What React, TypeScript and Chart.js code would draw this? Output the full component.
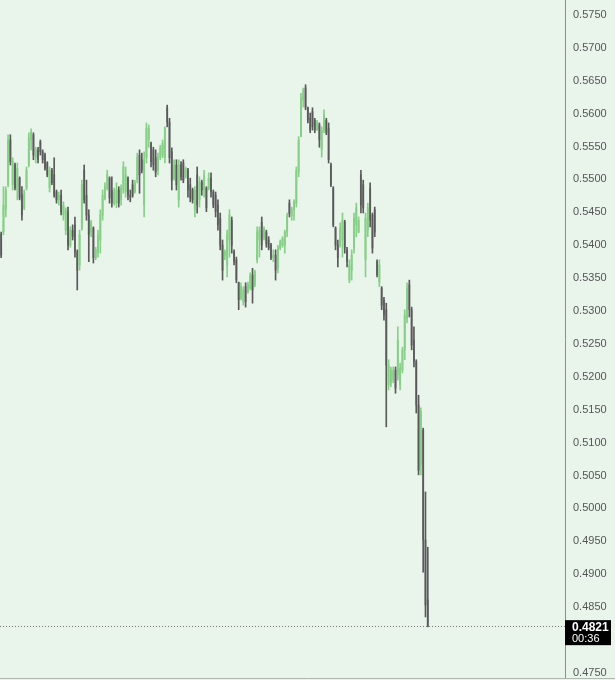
import { useEffect, useRef } from "react";
import { Chart, registerables } from "chart.js";

Chart.register(...registerables);

// OHLC candles, oldest first
const opens = [
  0.5417, 0.5420, 0.5454, 0.5492, 0.5560, 0.5492, 0.5522, 0.5484, 0.5502, 0.5476,
  0.5457, 0.5487, 0.5522, 0.5560, 0.5568, 0.5533, 0.5545, 0.5557, 0.5542, 0.5537,
  0.5525, 0.5487, 0.5514, 0.5507, 0.5481, 0.5469, 0.5476, 0.5446, 0.5423, 0.5451,
  0.5400, 0.5423, 0.5431, 0.5390, 0.5370, 0.5426, 0.5514, 0.5476, 0.5446, 0.5420,
  0.5426, 0.5381, 0.5390, 0.5408, 0.5446, 0.5472, 0.5487, 0.5502, 0.5484, 0.5464,
  0.5464, 0.5484, 0.5469, 0.5484, 0.5481, 0.5502, 0.5476, 0.5492, 0.5481, 0.5499,
  0.5537, 0.5530, 0.5461, 0.5533, 0.5560, 0.5555, 0.5545, 0.5533, 0.5514, 0.5534,
  0.5537, 0.5533, 0.5609, 0.5587, 0.5542, 0.5502, 0.5522, 0.5469, 0.5522, 0.5525,
  0.5504, 0.5514, 0.5492, 0.5484, 0.5454, 0.5507, 0.5469, 0.5496, 0.5484, 0.5487,
  0.5487, 0.5502, 0.5481, 0.5476, 0.5461, 0.5441, 0.5400, 0.5385, 0.5370, 0.5408,
  0.5438, 0.5390, 0.5378, 0.5343, 0.5320, 0.5314, 0.5337, 0.5329, 0.5335, 0.5355,
  0.5340, 0.5378, 0.5408, 0.5435, 0.5411, 0.5420, 0.5408, 0.5400, 0.5381, 0.5385,
  0.5365, 0.5396, 0.5400, 0.5400, 0.5420, 0.5464, 0.5445, 0.5454, 0.5464, 0.5511,
  0.5565, 0.5621, 0.5639, 0.5609, 0.5593, 0.5603, 0.5590, 0.5575, 0.5583, 0.5545,
  0.5575, 0.5590, 0.5578, 0.5522, 0.5487, 0.5426, 0.5400, 0.5400, 0.5408, 0.5435,
  0.5393, 0.5347, 0.5362, 0.5396, 0.5431, 0.5420, 0.5507, 0.5492, 0.5378, 0.5423,
  0.5487, 0.5446, 0.5454, 0.5375, 0.5344, 0.5335, 0.5317, 0.5302, 0.5188, 0.5191,
  0.5195, 0.5210, 0.5203, 0.5188, 0.5210, 0.5241, 0.5289, 0.5340, 0.5302, 0.5256,
  0.5223, 0.5157, 0.5066, 0.5119, 0.4952, 0.4861,
];
const highs = [
  0.5420, 0.5489, 0.5489, 0.5568, 0.5568, 0.5533, 0.5525, 0.5525, 0.5504, 0.5489,
  0.5484, 0.5519, 0.5571, 0.5577, 0.5571, 0.5549, 0.5549, 0.5560, 0.5545, 0.5540,
  0.5527, 0.5519, 0.5517, 0.5533, 0.5484, 0.5481, 0.5484, 0.5466, 0.5457, 0.5458,
  0.5428, 0.5431, 0.5443, 0.5393, 0.5423, 0.5499, 0.5522, 0.5499, 0.5454, 0.5438,
  0.5428, 0.5397, 0.5423, 0.5454, 0.5484, 0.5495, 0.5514, 0.5504, 0.5504, 0.5487,
  0.5495, 0.5489, 0.5492, 0.5527, 0.5519, 0.5504, 0.5484, 0.5499, 0.5499, 0.5540,
  0.5545, 0.5540, 0.5542, 0.5586, 0.5583, 0.5557, 0.5549, 0.5545, 0.5540, 0.5552,
  0.5560, 0.5580, 0.5613, 0.5593, 0.5548, 0.5530, 0.5530, 0.5530, 0.5527, 0.5530,
  0.5519, 0.5517, 0.5502, 0.5487, 0.5489, 0.5519, 0.5504, 0.5499, 0.5514, 0.5489,
  0.5510, 0.5510, 0.5484, 0.5481, 0.5469, 0.5449, 0.5408, 0.5393, 0.5423, 0.5454,
  0.5443, 0.5393, 0.5382, 0.5344, 0.5343, 0.5337, 0.5343, 0.5344, 0.5358, 0.5365,
  0.5362, 0.5428, 0.5428, 0.5443, 0.5428, 0.5423, 0.5413, 0.5403, 0.5393, 0.5393,
  0.5400, 0.5408, 0.5413, 0.5423, 0.5449, 0.5469, 0.5458, 0.5469, 0.5519, 0.5565,
  0.5631, 0.5639, 0.5644, 0.5610, 0.5601, 0.5609, 0.5593, 0.5590, 0.5586, 0.5580,
  0.5606, 0.5593, 0.5586, 0.5525, 0.5489, 0.5428, 0.5408, 0.5434, 0.5449, 0.5438,
  0.5397, 0.5378, 0.5393, 0.5449, 0.5464, 0.5443, 0.5514, 0.5499, 0.5449, 0.5464,
  0.5495, 0.5449, 0.5458, 0.5378, 0.5378, 0.5337, 0.5321, 0.5312, 0.5226, 0.5215,
  0.5215, 0.5215, 0.5276, 0.5221, 0.5245, 0.5302, 0.5343, 0.5347, 0.5306, 0.5276,
  0.5226, 0.5172, 0.5153, 0.5122, 0.5025, 0.4941,
];
const lows = [
  0.5381, 0.5416, 0.5443, 0.5489, 0.5522, 0.5484, 0.5484, 0.5469, 0.5469, 0.5438,
  0.5454, 0.5484, 0.5519, 0.5545, 0.5530, 0.5525, 0.5525, 0.5537, 0.5525, 0.5514,
  0.5504, 0.5481, 0.5492, 0.5473, 0.5464, 0.5461, 0.5446, 0.5438, 0.5416, 0.5393,
  0.5397, 0.5408, 0.5382, 0.5332, 0.5362, 0.5423, 0.5464, 0.5438, 0.5375, 0.5413,
  0.5373, 0.5378, 0.5382, 0.5388, 0.5438, 0.5469, 0.5484, 0.5464, 0.5458, 0.5461,
  0.5457, 0.5458, 0.5461, 0.5479, 0.5473, 0.5469, 0.5466, 0.5473, 0.5479, 0.5495,
  0.5479, 0.5510, 0.5443, 0.5525, 0.5549, 0.5519, 0.5514, 0.5504, 0.5507, 0.5530,
  0.5533, 0.5525, 0.5580, 0.5525, 0.5484, 0.5499, 0.5484, 0.5458, 0.5499, 0.5495,
  0.5502, 0.5473, 0.5466, 0.5464, 0.5443, 0.5449, 0.5458, 0.5476, 0.5473, 0.5451,
  0.5484, 0.5473, 0.5457, 0.5443, 0.5423, 0.5393, 0.5347, 0.5378, 0.5352, 0.5382,
  0.5388, 0.5370, 0.5343, 0.5302, 0.5317, 0.5309, 0.5306, 0.5327, 0.5332, 0.5312,
  0.5337, 0.5373, 0.5382, 0.5393, 0.5408, 0.5397, 0.5393, 0.5378, 0.5375, 0.5347,
  0.5358, 0.5393, 0.5397, 0.5388, 0.5413, 0.5443, 0.5438, 0.5438, 0.5458, 0.5504,
  0.5565, 0.5610, 0.5606, 0.5586, 0.5571, 0.5575, 0.5571, 0.5575, 0.5549, 0.5534,
  0.5571, 0.5568, 0.5525, 0.5489, 0.5428, 0.5393, 0.5367, 0.5397, 0.5382, 0.5388,
  0.5367, 0.5343, 0.5347, 0.5388, 0.5413, 0.5419, 0.5449, 0.5449, 0.5352, 0.5413,
  0.5428, 0.5388, 0.5413, 0.5352, 0.5337, 0.5302, 0.5286, 0.5124, 0.5180, 0.5185,
  0.5191, 0.5175, 0.5195, 0.5180, 0.5206, 0.5226, 0.5282, 0.5291, 0.5241, 0.5215,
  0.5145, 0.5051, 0.5051, 0.4903, 0.4835, 0.4820,
];
const closes = [
  0.5385, 0.5461, 0.5484, 0.5560, 0.5527, 0.5527, 0.5487, 0.5517, 0.5472, 0.5446,
  0.5479, 0.5514, 0.5563, 0.5572, 0.5537, 0.5545, 0.5530, 0.5542, 0.5530, 0.5517,
  0.5507, 0.5514, 0.5495, 0.5476, 0.5469, 0.5476, 0.5451, 0.5461, 0.5454, 0.5400,
  0.5423, 0.5413, 0.5390, 0.5362, 0.5416, 0.5492, 0.5469, 0.5446, 0.5416, 0.5435,
  0.5381, 0.5393, 0.5416, 0.5446, 0.5476, 0.5489, 0.5507, 0.5472, 0.5464, 0.5481,
  0.5484, 0.5464, 0.5487, 0.5519, 0.5507, 0.5476, 0.5473, 0.5476, 0.5495, 0.5533,
  0.5507, 0.5514, 0.5530, 0.5578, 0.5578, 0.5527, 0.5522, 0.5511, 0.5534, 0.5548,
  0.5555, 0.5578, 0.5587, 0.5533, 0.5499, 0.5522, 0.5492, 0.5522, 0.5504, 0.5499,
  0.5517, 0.5484, 0.5472, 0.5469, 0.5484, 0.5461, 0.5496, 0.5484, 0.5507, 0.5457,
  0.5502, 0.5481, 0.5461, 0.5451, 0.5431, 0.5400, 0.5362, 0.5390, 0.5416, 0.5446,
  0.5400, 0.5375, 0.5347, 0.5317, 0.5337, 0.5332, 0.5314, 0.5341, 0.5353, 0.5332,
  0.5359, 0.5420, 0.5423, 0.5400, 0.5425, 0.5402, 0.5396, 0.5381, 0.5385, 0.5362,
  0.5396, 0.5405, 0.5410, 0.5420, 0.5445, 0.5448, 0.5455, 0.5466, 0.5514, 0.5560,
  0.5624, 0.5636, 0.5610, 0.5590, 0.5575, 0.5580, 0.5575, 0.5587, 0.5560, 0.5575,
  0.5598, 0.5571, 0.5530, 0.5492, 0.5431, 0.5400, 0.5381, 0.5426, 0.5438, 0.5396,
  0.5375, 0.5370, 0.5385, 0.5441, 0.5457, 0.5438, 0.5461, 0.5457, 0.5441, 0.5457,
  0.5438, 0.5396, 0.5420, 0.5355, 0.5370, 0.5309, 0.5294, 0.5218, 0.5218, 0.5210,
  0.5210, 0.5183, 0.5256, 0.5213, 0.5241, 0.5294, 0.5335, 0.5302, 0.5248, 0.5223,
  0.5157, 0.5058, 0.5147, 0.4952, 0.4853, 0.4821,
];

const yTicks = [
  0.575, 0.57, 0.565, 0.56, 0.555, 0.55, 0.545, 0.54, 0.535, 0.53, 0.525,
  0.52, 0.515, 0.51, 0.505, 0.5, 0.495, 0.49, 0.485, 0.48, 0.475,
];
const lastPrice = 0.4821;
const countdown = "00:36";
const slotCount = 245; // candle slots across the plot, the right part is still empty

const BG = "#e9f4eb";
const UP = "#86d086";
const DOWN_BODY = "#838383";
const DOWN_WICK = "#595959";
const FONT = "'Liberation Sans', Arial, sans-serif";

export default function App() {
  const ref = useRef<HTMLCanvasElement | null>(null);

  useEffect(() => {
    if (!ref.current) return;
    const labels = Array.from({ length: slotCount }, (_, i) => String(i));
    const isUp = closes.map((c, i) => c >= opens[i]);

    const pricePlugin = {
      id: "lastPrice",
      beforeDraw(chart: any) {
        const { ctx, width, height } = chart;
        ctx.save();
        ctx.fillStyle = BG;
        ctx.fillRect(0, 0, width, height);
        ctx.restore();
      },
      afterDraw(chart: any) {
        const { ctx, chartArea, width } = chart;
        const y = chart.scales.y.getPixelForValue(lastPrice);
        const ly = Math.round(y) + 0.5;
        ctx.save();
        // dotted last-price line
        ctx.strokeStyle = "#777";
        ctx.lineWidth = 1;
        ctx.setLineDash([1, 2]);
        ctx.beginPath();
        ctx.moveTo(chartArea.left, ly);
        ctx.lineTo(chartArea.right, ly);
        ctx.stroke();
        ctx.setLineDash([]);
        // bottom edge line
        ctx.strokeStyle = "#b0b5b0";
        ctx.beginPath();
        ctx.moveTo(0, chartArea.bottom + 0.5);
        ctx.lineTo(width, chartArea.bottom + 0.5);
        ctx.stroke();
        // price tag
        ctx.fillStyle = "#000";
        ctx.fillRect(chartArea.right, y - 6, 46, 25);
        ctx.fillStyle = "#fff";
        ctx.textAlign = "left";
        ctx.textBaseline = "middle";
        ctx.font = `bold 12px ${FONT}`;
        ctx.fillText(lastPrice.toFixed(4), chartArea.right + 7, y + 1.5);
        ctx.font = `11px ${FONT}`;
        ctx.fillText(countdown, chartArea.right + 7, y + 12.5);
        ctx.restore();
      },
    };

    const chart = new Chart(ref.current, {
      type: "bar",
      data: {
        labels,
        datasets: [
          {
            label: "wick",
            data: lows.map((l, i) => [l, highs[i]]) as any,
            backgroundColor: isUp.map((u) => (u ? UP : DOWN_WICK)),
            barThickness: 1,
            grouped: false,
          },
          {
            label: "body",
            data: opens.map((o, i) => [o, closes[i]]) as any,
            backgroundColor: isUp.map((u) => (u ? UP : DOWN_BODY)),
            barThickness: 1.3,
            minBarLength: 1,
            grouped: false,
          },
        ],
      },
      options: {
        animation: false,
        responsive: true,
        maintainAspectRatio: false,
        events: [],
        layout: { autoPadding: false, padding: { top: 0, right: 0, bottom: 2, left: 0 } },
        plugins: { legend: { display: false }, tooltip: { enabled: false } },
        scales: {
          x: { display: false, offset: true, grid: { display: false } },
          y: {
            position: "right",
            min: 0.47422,
            max: 0.57728,
            afterFit: (s: any) => {
              s.width = 50;
              s.paddingTop = 0;
              s.paddingBottom = 0;
            },
            afterBuildTicks: (s: any) => {
              s.ticks = yTicks.map((v) => ({ value: v }));
            },
            grid: { display: false, drawTicks: false },
            border: { display: true, color: "#8c8c8c", width: 1 },
            ticks: {
              padding: 8,
              crossAlign: "near",
              autoSkip: false,
              color: "#555",
              font: { family: FONT, size: 11 },
              callback: (v: any) => Number(v).toFixed(4),
            },
          },
        },
      },
      plugins: [pricePlugin],
    });

    return () => chart.destroy();
  }, []);

  return (
    <div style={{ position: "fixed", left: 0, top: 0, width: 615, height: 680, background: BG }}>
      <canvas ref={ref} />
    </div>
  );
}
